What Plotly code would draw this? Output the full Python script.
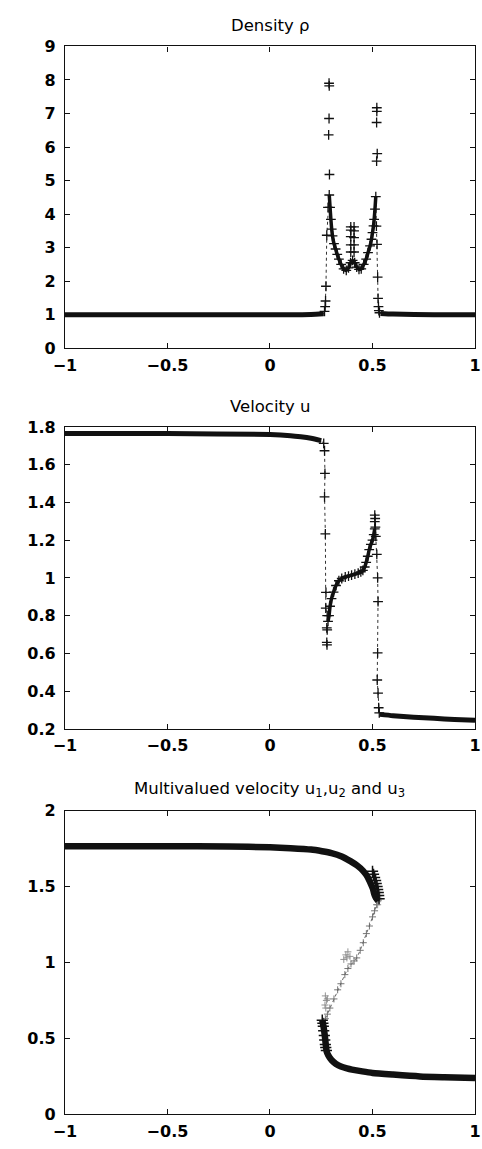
import plotly.graph_objects as go

# ---------------- Density rho ----------------
rho_left_x = [-1.0, -0.5, 0.0, 0.2, 0.262]
rho_left_y = [1.0, 1.0, 1.0, 1.01, 1.03]
rho_shock1_x = [0.266, 0.269, 0.271, 0.273, 0.277, 0.283]
rho_shock1_y = [1.1, 1.24, 1.41, 1.85, 3.37, 4.2]
rho_mid_x = [0.289, 0.293, 0.297, 0.301, 0.305, 0.312, 0.32, 0.328, 0.336, 0.347,
             0.359, 0.372, 0.383, 0.393, 0.403, 0.413, 0.423, 0.434, 0.445, 0.457,
             0.469, 0.478, 0.488, 0.495, 0.5, 0.505, 0.508, 0.512, 0.516]
rho_mid_y = [4.57, 4.2, 3.84, 3.55, 3.35, 3.12, 2.96, 2.8, 2.66, 2.5,
             2.37, 2.32, 2.4, 2.55, 2.62, 2.55, 2.42, 2.35, 2.37, 2.5,
             2.66, 2.85, 3.05, 3.25, 3.45, 3.65, 3.84, 4.15, 4.52]
rho_shock2_x = [0.519, 0.522, 0.525, 0.527, 0.529, 0.531, 0.534]
rho_shock2_y = [3.64, 3.1, 2.12, 1.49, 1.24, 1.12, 1.06]
rho_right_x = [0.539, 0.6, 0.8, 1.0]
rho_right_y = [1.04, 1.02, 1.0, 1.0]
rho_spike_x = [0.288, 0.289, 0.288, 0.286, 0.29,
               0.394, 0.394, 0.394, 0.394, 0.394,
               0.41, 0.41, 0.41, 0.41, 0.41,
               0.521, 0.521, 0.52, 0.523, 0.52]
rho_spike_y = [7.9, 7.82, 6.85, 6.36, 5.18,
               3.62, 3.52, 3.33, 3.08, 2.87,
               3.62, 3.5, 3.3, 3.08, 2.87,
               7.17, 7.06, 6.73, 5.8, 5.58]

# ---------------- Velocity u ----------------
u_left_x = [-1.0, -0.5, 0.0, 0.1, 0.15, 0.2, 0.25]
u_left_y = [1.766, 1.765, 1.76, 1.754, 1.748, 1.74, 1.728]
u_shock1_x = [0.262, 0.266, 0.268, 0.266, 0.27, 0.273, 0.272, 0.279]
u_shock1_y = [1.713, 1.674, 1.554, 1.43, 1.234, 0.923, 0.84, 0.80]
u_mid_x = [0.283, 0.288, 0.293, 0.3, 0.31, 0.322, 0.336, 0.35, 0.367, 0.383, 0.398,
           0.414, 0.43, 0.443, 0.453, 0.462, 0.469, 0.477, 0.484, 0.492, 0.5, 0.506, 0.511]
u_mid_y = [0.77, 0.8, 0.85, 0.89, 0.925, 0.96, 0.985, 0.997, 1.005, 1.01, 1.015,
           1.02, 1.026, 1.032, 1.04, 1.058, 1.082, 1.115, 1.15, 1.178, 1.2, 1.23, 1.26]
u_shock2_x = [0.516, 0.521, 0.525, 0.527, 0.525, 0.523, 0.527, 0.53, 0.533]
u_shock2_y = [1.22, 1.125, 1.0, 0.874, 0.603, 0.459, 0.39, 0.312, 0.285]
u_right_x = [0.536, 0.6, 0.7, 0.8, 0.9, 1.0]
u_right_y = [0.277, 0.27, 0.262, 0.256, 0.25, 0.246]
u_spike_x = [0.277, 0.279, 0.277, 0.278, 0.511, 0.513, 0.511, 0.514]
u_spike_y = [0.735, 0.725, 0.658, 0.645, 1.333, 1.315, 1.298, 1.269]

# ---------------- Multivalued velocity u1, u2, u3 ----------------
u1_x = [-1.0, -0.5, -0.2, 0.0, 0.1, 0.2, 0.254, 0.3, 0.35, 0.392, 0.425, 0.454,
        0.475, 0.492, 0.502, 0.508, 0.515, 0.522, 0.528]
u1_y = [1.765, 1.765, 1.763, 1.758, 1.752, 1.743, 1.732, 1.72, 1.698, 1.667, 1.638,
        1.603, 1.565, 1.517, 1.485, 1.453, 1.43, 1.415, 1.405]
u1_pts_x = [0.5, 0.505, 0.51, 0.515, 0.518, 0.522, 0.525, 0.528, 0.53, 0.532]
u1_pts_y = [1.6, 1.58, 1.56, 1.54, 1.52, 1.5, 1.48, 1.46, 1.44, 1.42]
u2_x = [0.535, 0.528, 0.52, 0.51, 0.5, 0.485, 0.47, 0.455, 0.44, 0.423, 0.41,
        0.395, 0.38, 0.365, 0.346, 0.33, 0.312, 0.292, 0.28, 0.27]
u2_y = [1.44, 1.41, 1.38, 1.34, 1.3, 1.24, 1.19, 1.13, 1.08, 1.03, 1.01,
        0.99, 0.96, 0.92, 0.86, 0.82, 0.76, 0.70, 0.66, 0.63]
u2_pts_x = [0.53, 0.535, 0.54, 0.525, 0.37, 0.38, 0.39, 0.36, 0.375,
            0.27, 0.275, 0.268, 0.28, 0.272]
u2_pts_y = [1.5, 1.46, 1.42, 1.38, 1.05, 1.07, 1.04, 1.02, 1.03,
            0.78, 0.75, 0.72, 0.76, 0.70]
u3_x = [0.255, 0.262, 0.268, 0.272, 0.277, 0.285, 0.293, 0.3, 0.31, 0.322, 0.346,
        0.375, 0.4, 0.45, 0.5, 0.6, 0.731, 0.85, 1.0]
u3_y = [0.62, 0.57, 0.51, 0.46, 0.412, 0.388, 0.37, 0.358, 0.345, 0.332, 0.315,
        0.303, 0.295, 0.283, 0.273, 0.262, 0.25, 0.245, 0.24]
u3_pts_x = [0.255, 0.258, 0.26, 0.262, 0.265, 0.267, 0.27, 0.272, 0.275]
u3_pts_y = [0.62, 0.6, 0.58, 0.55, 0.52, 0.49, 0.46, 0.44, 0.42]

BLACK = "#111111"
FONT = "DejaVu Sans, Verdana, sans-serif"

fig = go.Figure()


def thin(xs, ys, ax, color="#333333", markers=False):
    fig.add_trace(go.Scatter(x=xs, y=ys, mode="lines+markers" if markers else "lines",
                             xaxis=ax[0], yaxis=ax[1],
                             line=dict(color=color, width=1, dash="dot"),
                             marker=dict(symbol="cross-thin", size=5, color=color,
                                         line=dict(color=color, width=0.9)),
                             showlegend=False, hoverinfo="skip"))


def band(xs, ys, ax, width=4.5, markers=False):
    fig.add_trace(go.Scatter(x=xs, y=ys, mode="lines+markers" if markers else "lines",
                             xaxis=ax[0], yaxis=ax[1],
                             line=dict(color=BLACK, width=width, shape="spline",
                                       smoothing=0.6),
                             marker=dict(symbol="cross-thin", size=7,
                                         line=dict(color=BLACK, width=1.3)),
                             showlegend=False, hoverinfo="skip"))


def plus(xs, ys, ax, color=BLACK, size=7, lw=1.3):
    fig.add_trace(go.Scatter(x=xs, y=ys, mode="markers", xaxis=ax[0], yaxis=ax[1],
                             marker=dict(symbol="cross-thin", size=size, color=color,
                                         line=dict(color=color, width=lw)),
                             showlegend=False, hoverinfo="skip"))


# Density panel
A1 = ("x", "y")
thin(rho_left_x + rho_shock1_x + rho_mid_x + rho_shock2_x + rho_right_x,
     rho_left_y + rho_shock1_y + rho_mid_y + rho_shock2_y + rho_right_y, A1)
band(rho_left_x, rho_left_y, A1, width=5)
band(rho_mid_x, rho_mid_y, A1, width=3.5, markers=True)
band(rho_right_x, rho_right_y, A1, width=5)
plus(rho_shock1_x, rho_shock1_y, A1)
plus(rho_shock2_x, rho_shock2_y, A1)
plus(rho_spike_x, rho_spike_y, A1)

# Velocity panel
A2 = ("x2", "y2")
thin(u_left_x + u_shock1_x + u_mid_x + u_shock2_x + u_right_x,
     u_left_y + u_shock1_y + u_mid_y + u_shock2_y + u_right_y, A2)
band(u_left_x, u_left_y, A2, width=5)
band(u_mid_x, u_mid_y, A2, width=3.5, markers=True)
band(u_right_x, u_right_y, A2, width=5)
plus(u_shock1_x, u_shock1_y, A2)
plus(u_shock2_x, u_shock2_y, A2)
plus(u_spike_x, u_spike_y, A2)

# Multivalued velocity panel
A3 = ("x3", "y3")
thin(u2_x, u2_y, A3, color="#666666", markers=True)
plus(u2_pts_x, u2_pts_y, A3, color="#888888", size=5, lw=0.9)
band(u1_x, u1_y, A3, width=6.5)
plus(u1_pts_x, u1_pts_y, A3, size=8, lw=1.5)
band(u3_x, u3_y, A3, width=6.5)
plus(u3_pts_x, u3_pts_y, A3, size=8, lw=1.5)

W, H = 482, 1149
x_dom = [55 / W, 481 / W]
panels = [  # (top px, bottom px)
    (38, 345),
    (425, 732),
    (815, 1124),
]
y_ranges = [[0, 9], [0.2, 1.8], [0, 2]]
y_ticks = [
    ([0, 1, 2, 3, 4, 5, 6, 7, 8, 9], ["0", "1", "2", "3", "4", "5", "6", "7", "8", "9"]),
    ([0.2, 0.4, 0.6, 0.8, 1.0, 1.2, 1.4, 1.6, 1.8],
     ["0.2", "0.4", "0.6", "0.8", "1", "1.2", "1.4", "1.6", "1.8"]),
    ([0, 0.5, 1, 1.5, 2], ["0", "0.5", "1", "1.5", "2"]),
]
titles = ["Density ρ", "Velocity u",
          "Multivalued velocity u<sub>1</sub>,u<sub>2</sub> and u<sub>3</sub>"]

axis_common = dict(showline=True, linecolor=BLACK, linewidth=1.3, mirror="allticks",
                   ticks="inside", ticklen=5, tickwidth=1, tickcolor=BLACK,
                   showgrid=False, zeroline=False,
                   tickfont=dict(family=FONT, size=16, color="#000000", weight="bold"))

layout = dict(width=W, height=H, margin=dict(l=0, r=0, t=0, b=0),
              paper_bgcolor="white", plot_bgcolor="white", showlegend=False,
              annotations=[])

for i, (top, bot) in enumerate(panels):
    sfx = "" if i == 0 else str(i + 1)
    ydom = [1 - bot / H, 1 - top / H]
    layout["xaxis" + sfx] = dict(domain=x_dom, range=[-1, 1], anchor="y" + sfx,
                                 tickvals=[-1, -0.5, 0, 0.5, 1],
                                 ticktext=["\u22121", "\u22120.5", "0", "0.5", "1"],
                                 ticklabeloverflow="allow", ticklabelstandoff=2,
                                 **axis_common)
    layout["yaxis" + sfx] = dict(domain=ydom, range=y_ranges[i], anchor="x" + sfx,
                                 tickvals=y_ticks[i][0], ticktext=y_ticks[i][1],
                                 ticklabelstandoff=5,
                                 **axis_common)
    layout["annotations"].append(dict(
        text=titles[i], x=(x_dom[0] + x_dom[1]) / 2, y=ydom[1], xref="paper", yref="paper",
        xanchor="center", yanchor="bottom", yshift=9, showarrow=False,
        font=dict(family=FONT, size=16.5, color="#000000")))

fig.update_layout(**layout)
fig.write_html("out.html")
